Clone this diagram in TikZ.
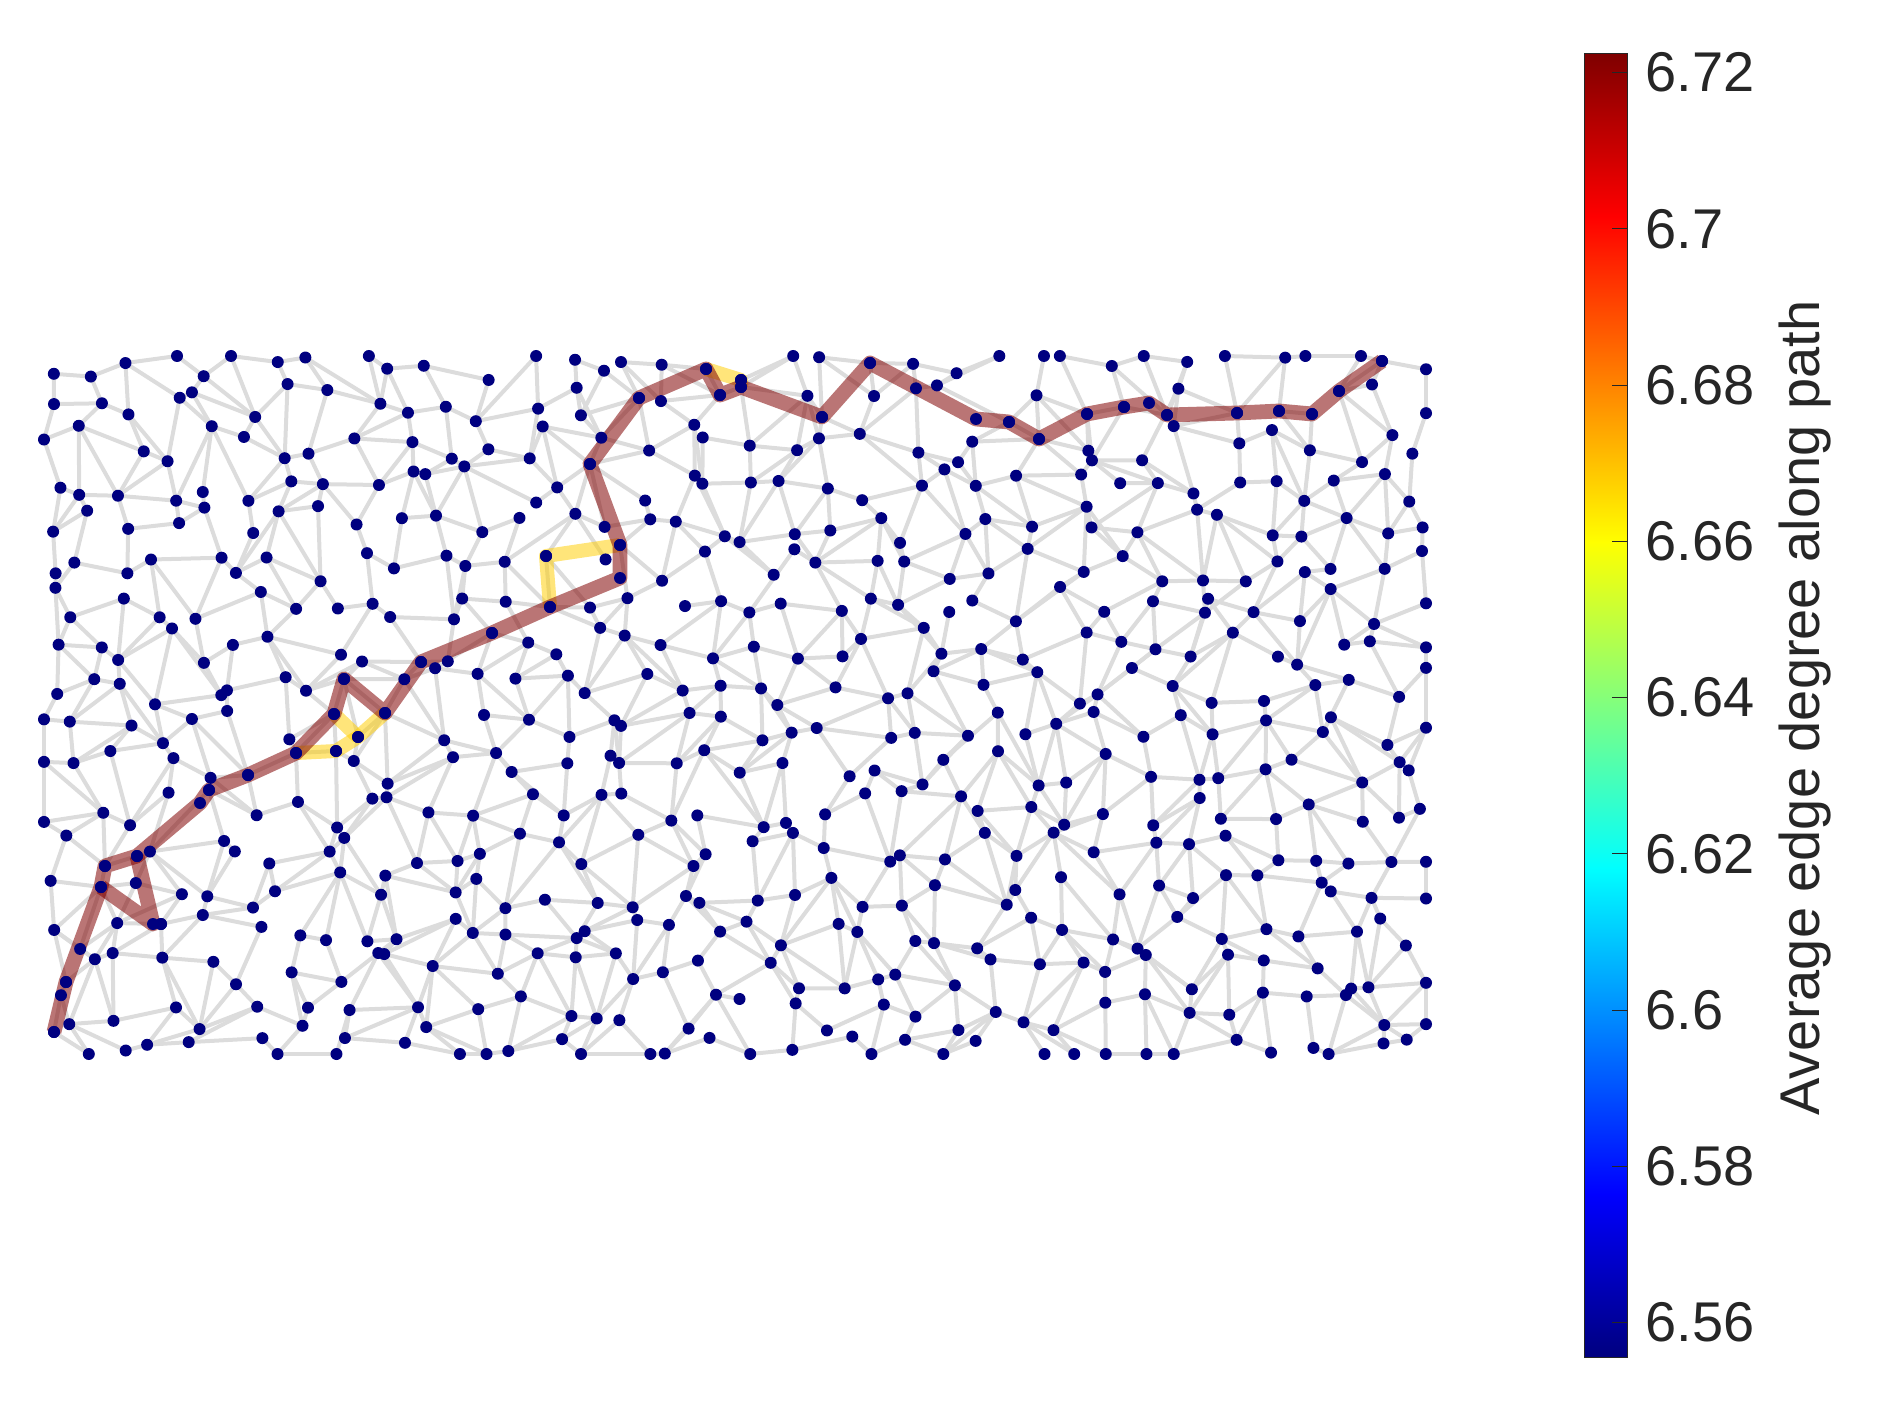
\documentclass[tikz,border=0pt]{standalone}
\usepackage{fontspec}
\setmainfont{Liberation Sans}
\definecolor{edgegray}{RGB}{220,220,220}
\definecolor{navy}{rgb}{0,0,0.5}
\definecolor{pathbrown}{RGB}{128,0,0}
\definecolor{pathyellow}{RGB}{255,205,0}
\definecolor{labelgray}{RGB}{38,38,38}
\definecolor{jetA}{rgb}{0,0,0.5}
\definecolor{jetB}{rgb}{0,0,1}
\definecolor{jetC}{rgb}{0,1,1}
\definecolor{jetD}{rgb}{1,1,0}
\definecolor{jetE}{rgb}{1,0,0}
\definecolor{jetF}{rgb}{0.5,0,0}
\begin{document}
\begin{tikzpicture}[x=0.5pt,y=-0.5pt,
  edge/.style={draw=edgegray,line width=2pt},
  dot/.style={circle,fill=navy,inner sep=0pt,minimum size=6pt},
  brownpath/.style={draw=pathbrown,line width=7.4pt,opacity=0.54,line join=round},
  yellowpath/.style={draw=pathyellow,line width=7pt,opacity=0.52,line join=round},
  ticklbl/.style={anchor=west,inner sep=0pt,text=labelgray,font=\fontsize{28}{34}\selectfont},
  cbtick/.style={draw=labelgray,line width=0.5pt}]
\useasboundingbox (0,0) rectangle (1883,1406);
\pgfmathsetseed{4242}
% jittered grid of graph nodes
\foreach \i in {0,...,35}{\foreach \j in {0,...,17}{
  \pgfmathsetmacro\px{max(44,min(1426,48+\i*39.3+19*rand))}
  \pgfmathsetmacro\py{max(356,min(1054,362+\j*40.6+19*rand))}
  \coordinate (p-\i-\j) at (\px,\py);
}}
% path nodes (snapped into the mesh)
\foreach \nm/\x/\y in {A/54/1032,B/66/982,C/101/887,D/105/866,E/137/856,F/153/924,F2/161/924,
  G0/200/803,G/209/790,H/248/775,I/296/753,J/334/714,K/344/679,L/385/713,M/421/662,N1/492/633,
  P0/550/607,P/620/578,Q/620/545,R/590/464,S/639/398,T/706/369,U/720/395,V1/741/380,V2/741/387,
  W/822/417,X/870/363,Y/976/419,Z/1009/422,AA/1039/439,AB/1087/414,AC/1124/407,AD/1149/403,
  AE/1167/415,AF/1237/413,AG/1279/411,AH/1312/414,AI/1339/391,AJ/1382/361,
  N/336/751,O/358/737,Y3/546/556}{
  \coordinate (\nm) at (\x,\y);
  \pgfmathtruncatemacro\gi{round((\x-48)/39.3)}
  \pgfmathtruncatemacro\gj{round((\y-362)/40.6)}
  \coordinate (p-\gi-\gj) at (\x,\y);
}
% gray edges
\foreach \i in {0,...,35}{\foreach \j in {0,...,17}{
  \pgfmathtruncatemacro\ni{\i+1}
  \pgfmathtruncatemacro\nj{\j+1}
  \ifnum\i<35
    \pgfmathtruncatemacro\k{rnd<0.84 ? 1 : 0}
    \ifnum\k=1 \draw[edge] (p-\i-\j) -- (p-\ni-\j);\fi
  \fi
  \ifnum\j<17
    \pgfmathtruncatemacro\k{rnd<0.84 ? 1 : 0}
    \ifnum\k=1 \draw[edge] (p-\i-\j) -- (p-\i-\nj);\fi
  \fi
  \ifnum\i<35 \ifnum\j<17
    \pgfmathtruncatemacro\k{rnd<0.6 ? 1 : 0}
    \ifnum\k=1
      \pgfmathtruncatemacro\d{rnd<0.5 ? 1 : 0}
      \ifnum\d=1 \draw[edge] (p-\i-\j) -- (p-\ni-\nj);
      \else \draw[edge] (p-\ni-\j) -- (p-\i-\nj);\fi
    \fi
  \fi\fi
}}
% highlighted paths
\draw[yellowpath] (I) -- (N) -- (O) -- (L);
\draw[yellowpath] (J) -- (O);
\draw[yellowpath] (P0) -- (Y3) -- (Q);
\draw[yellowpath] (T) -- (V1) -- (V2);
\draw[brownpath] (A) -- (B) -- (C) -- (D) -- (E) -- (G0) -- (G) -- (H) -- (I) -- (J) -- (K) -- (L)
  -- (M) -- (N1) -- (P0) -- (P) -- (Q) -- (R) -- (S) -- (T) -- (U) -- (V2) -- (W) -- (X) -- (Y)
  -- (Z) -- (AA) -- (AB) -- (AC) -- (AD) -- (AE) -- (AF) -- (AG) -- (AH) -- (AI) -- (AJ);
\draw[brownpath] (C) -- (F) -- (E);
% node dots
\foreach \i in {0,...,35}{\foreach \j in {0,...,17}{
  \node[dot] (d-\i-\j) at (p-\i-\j) {};
}}
\foreach \nm in {A,B,C,D,E,F,F2,G0,G,H,I,J,K,L,M,N1,P0,P,Q,R,S,T,U,V1,V2,W,X,Y,Z,AA,AB,AC,AD,AE,AF,AG,AH,AI,AJ,N,O,Y3}{
  \node[dot] (dp-\nm) at (\nm) {};
}
% colorbar
\shade[bottom color=jetA, top color=jetB] (1584,1357) rectangle (1627,1193.6);
\shade[bottom color=jetB, top color=jetC] (1584,1194.1) rectangle (1627,867.9);
\shade[bottom color=jetC, top color=jetD] (1584,868.4) rectangle (1627,542.1);
\shade[bottom color=jetD, top color=jetE] (1584,542.6) rectangle (1627,216.4);
\shade[bottom color=jetE, top color=jetF] (1584,216.9) rectangle (1627,54);
\draw[draw=labelgray,line width=0.5pt] (1584,54) rectangle (1627,1357);
\foreach \k/\lab in {0/6.72,1/6.7,2/6.68,3/6.66,4/6.64,5/6.62,6/6.6,7/6.58,8/6.56}{
  \pgfmathsetmacro\ty{72.7+\k*156.25}
  \draw[cbtick] (1612,\ty) -- (1627,\ty);
  \node[ticklbl] (tl-\k) at (1645,\ty) {\lab};
}
\node[rotate=90,inner sep=0pt,text=labelgray,font=\fontsize{28}{34}\selectfont] (cblabel) at (1805,708) {Average edge degree along path};
\end{tikzpicture}
\end{document}
